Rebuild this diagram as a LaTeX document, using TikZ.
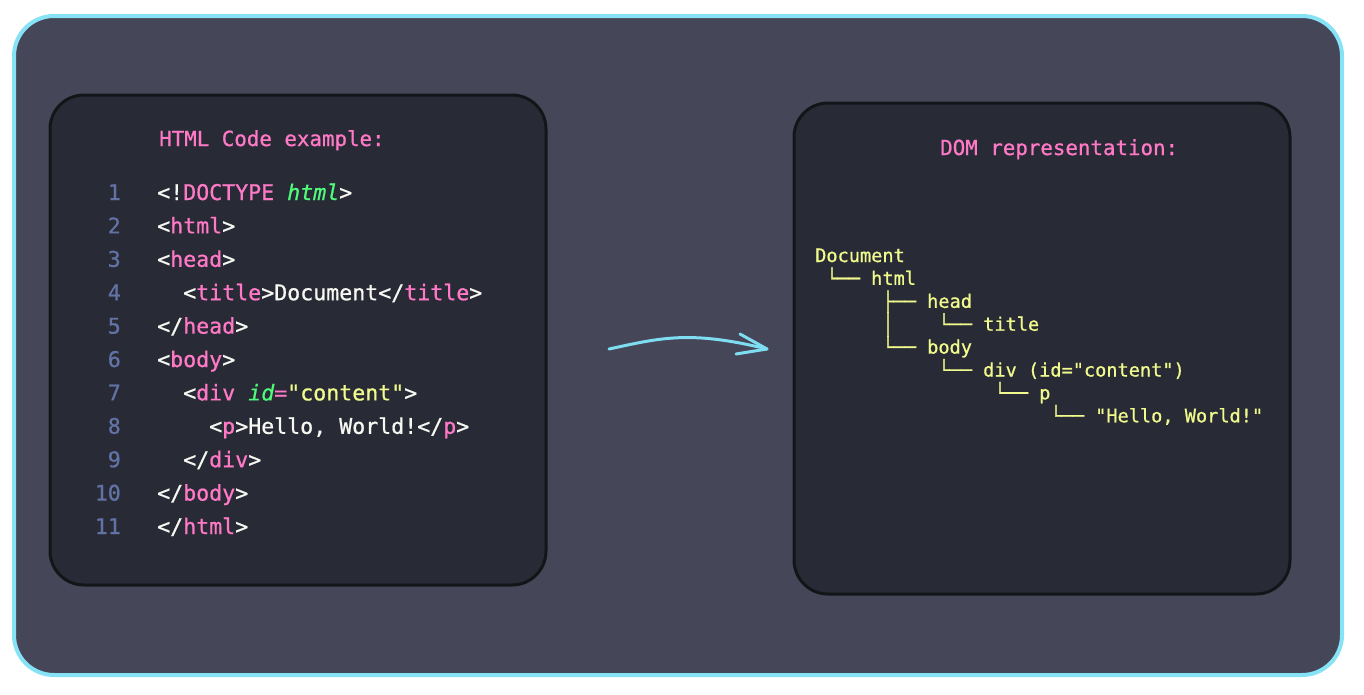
\documentclass[tikz,border=0pt]{standalone}
\usepackage{fontspec}
\newfontfamily\codefont[FakeBold=0.8]{DejaVu Sans Mono}
\definecolor{outerfill}{HTML}{454759}
\definecolor{outerline}{HTML}{86E3F5}
\definecolor{boxfill}{HTML}{282A36}
\definecolor{boxline}{HTML}{141519}
\definecolor{pinkc}{HTML}{FF79C6}
\definecolor{greenc}{HTML}{50FA7B}
\definecolor{yellowc}{HTML}{F1FA8C}
\definecolor{fgc}{HTML}{F8F8F2}
\definecolor{numc}{HTML}{6272A4}
\definecolor{arrowc}{HTML}{7FDDF2}
\newcommand{\Wc}[1]{\textcolor{fgc}{#1}}
\newcommand{\Pc}[1]{\textcolor{pinkc}{#1}}
\newcommand{\Gc}[1]{\textcolor{greenc}{\itshape #1}}
\newcommand{\Yc}[1]{\textcolor{yellowc}{#1}}
\begin{document}
\begin{tikzpicture}[x=1pt,y=-1pt,
  codeline/.style={anchor=base west,inner sep=0pt,font=\codefont\fontsize{21.6}{24}\selectfont,text=fgc},
  lnum/.style={anchor=base east,inner sep=0pt,font=\codefont\fontsize{21.6}{24}\selectfont,text=numc},
  ttl/.style={anchor=base west,inner sep=0pt,font=\codefont\fontsize{20.8}{24}\selectfont,text=pinkc},
  domline/.style={anchor=base west,inner sep=0pt,font=\codefont\fontsize{18.6}{22}\selectfont,text=yellowc},
  panel/.style={fill=boxfill,draw=boxline,line width=3pt,rounded corners=34pt}]
\useasboundingbox (0,0) rectangle (1364,694);
\fill[white] (0,0) rectangle (1364,694);
\draw[fill=outerfill,draw=outerline,line width=4pt,rounded corners=40pt] (14,16) rectangle (1342,675);
% panels
\draw[panel] (50,95) rectangle (546,585);
\draw[panel] (794,103) rectangle (1290,594);
% titles
\node[ttl] (t1) at (159,146) {HTML Code example:};
\node[ttl] (t2) at (940,155) {DOM representation:};
% code lines
\foreach \n [count=\i from 0] in {1,...,11} {
  \node[lnum] (n\n) at (121,200+33.4*\i) {\n};
}
\node[codeline] (c1) at (157,200) {<!\Pc{DOCTYPE} \Gc{html}>};
\node[codeline] (c2) at (157,233.4) {<\Pc{html}>};
\node[codeline] (c3) at (157,266.8) {<\Pc{head}>};
\node[codeline] (c4) at (183,300.2) {<\Pc{title}>Document</\Pc{title}>};
\node[codeline] (c5) at (157,333.6) {</\Pc{head}>};
\node[codeline] (c6) at (157,367) {<\Pc{body}>};
\node[codeline] (c7) at (183,400.4) {<\Pc{div} \Gc{id}\Pc{=}\Yc{"content"}>};
\node[codeline] (c8) at (209,433.8) {<\Pc{p}>Hello, World!</\Pc{p}>};
\node[codeline] (c9) at (183,467.2) {</\Pc{div}>};
\node[codeline] (c10) at (157,500.6) {</\Pc{body}>};
\node[codeline] (c11) at (157,534) {</\Pc{html}>};
% DOM tree
\node[domline] (d1) at (815,262) {Document};
\node[domline] (d2) at (815+1*11.2,284.9) {└── html};
\node[domline] (d3) at (815+6*11.2,307.8) {├── head};
\node[domline] (d4a) at (815+6*11.2,331.5) {\scalebox{1}[1.12]{│}};
\node[domline] (d4) at (815+11*11.2,330.7) {└── title};
\node[domline] (d5) at (815+6*11.2,353.6) {└── body};
\node[domline] (d6) at (815+11*11.2,376.5) {└── div (id="content")};
\node[domline] (d7) at (815+16*11.2,399.4) {└── p};
\node[domline] (d8) at (815+21*11.2,422.3) {└── "Hello, World!"};
% arrow
\coordinate (a0) at (609,349);
\coordinate (a1) at (767,349);
\coordinate (h1) at (740,334);
\coordinate (h2) at (736,354);
\draw[arrowc,line width=3pt,line cap=round] (a0) .. controls (660,338) and (690,330) .. (a1);
\draw[arrowc,line width=3pt,line cap=round,line join=round] (h1) -- (a1) -- (h2);
\end{tikzpicture}
\end{document}
